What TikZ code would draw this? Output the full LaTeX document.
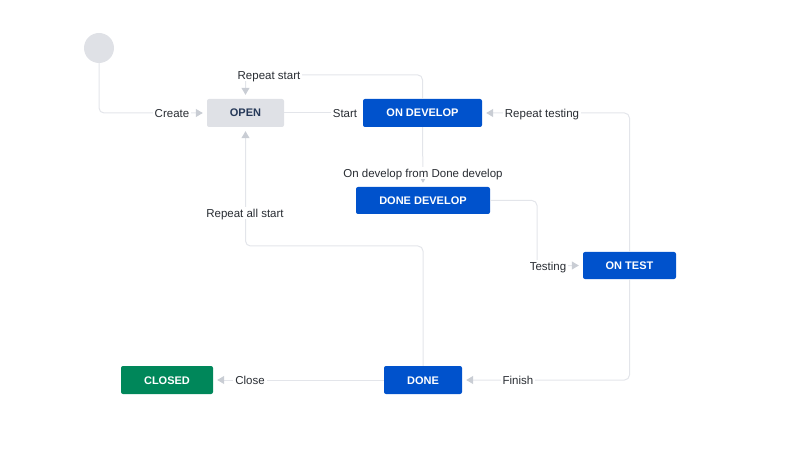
\documentclass[tikz,border=0pt]{standalone}
\usepackage{fontspec}
\setmainfont{Liberation Sans}
\usetikzlibrary{arrows.meta}
\usepackage{xcolor}
\definecolor{jblue}{HTML}{0052CC}
\definecolor{jgreen}{HTML}{00875A}
\definecolor{jgray}{HTML}{DFE1E6}
\definecolor{jline}{HTML}{E3E5EA}
\definecolor{jtip}{HTML}{C9CDD4}
\definecolor{jtext}{HTML}{292D33}
\definecolor{jdark}{HTML}{253858}

\begin{document}
\begin{tikzpicture}[x=1pt, y=-1pt]
        \tikzstyle{state}=[rectangle, rounded corners=2pt, fill=jblue, text=white, font=\fontsize{11}{13}\selectfont\bfseries, minimum height=28pt, inner sep=0pt, text height=8pt, text depth=0pt]
        \tikzstyle{trans}=[draw=jline, line width=1pt, rounded corners=5pt, -{Triangle[length=7pt, width=8pt, color=jtip]}, shorten >=4pt]
        \tikzstyle{lbl}=[fill=white, text=jtext, font=\fontsize{11.5}{13}\selectfont, inner sep=2pt, text height=8.2pt, text depth=0pt]

        \useasboundingbox (0,0) rectangle (806,465);

        % 状态节点
        \node[circle, fill=jgray, minimum size=30pt, inner sep=0pt] (init) at (99,48) {};
        \node[state, fill=jgray, text=jdark, minimum width=77pt] (open) at (245.5,113) {OPEN};
        \node[state, minimum width=119pt] (ondev) at (422.5,113) {ON DEVELOP};
        \node[state, minimum width=134pt, minimum height=27pt] (donedev) at (423,200.5) {DONE DEVELOP};
        \node[state, minimum width=93pt, minimum height=27pt] (ontest) at (629.5,265.5) {ON TEST};
        \node[state, minimum width=78pt] (done) at (423,380) {DONE};
        \node[state, fill=jgreen, minimum width=92pt] (closed) at (167,380) {CLOSED};

        % 转换
        \draw[trans] (init.south) |- (open.west);
        \draw[trans] (open.east) -- (ondev.west);
        \draw[trans] (ondev.north) -- ++(0,-24) -| (open.north);
        \draw[trans] (ondev.south) -- (donedev.north);
        \draw[trans] (donedev.east) -- (537,200.5) |- (ontest.west);
        \draw[trans] (ontest.north) |- (ondev.east);
        \draw[trans] (ontest.south) |- (done.east);
        \draw[trans] (done.west) -- (closed.east);
        \draw[trans] (done.north) -- (423,246) -| (open.south);

        % 标签
        \node[lbl] (lcreate) at (172,113) {Create};
        \node[lbl] (lstart) at (345,113) {Start};
        \node[lbl] (lrepstart) at (269,75) {Repeat start};
        \node[lbl] (londev) at (423,173) {On develop from Done develop};
        \node[lbl] (ltesting) at (548,266) {Testing};
        \node[lbl] (lreptest) at (542,113) {Repeat testing};
        \node[lbl] (lfinish) at (518,380) {Finish};
        \node[lbl] (lclose) at (250,380) {Close};
        \node[lbl] (lrepall) at (245,213) {Repeat all start};
\end{tikzpicture}
\end{document}
